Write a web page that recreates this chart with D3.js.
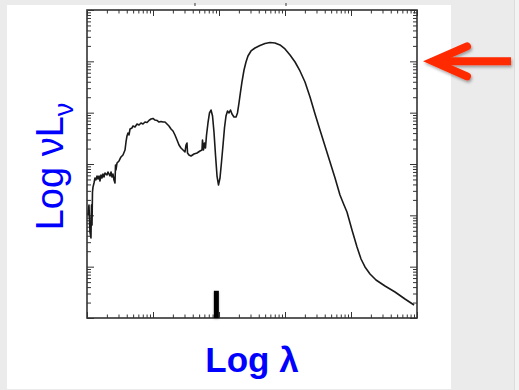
<!DOCTYPE html>
<html>
<head>
<meta charset="utf-8">
<script src="https://cdn.jsdelivr.net/npm/d3@7/dist/d3.min.js"></script>
<style>
  html, body { margin: 0; padding: 0; background: #ebebeb; }
  svg { display: block; }
</style>
</head>
<body>
<script>
// ---- Data (log units) ----
const logLambda = [0.015,0.03,0.045,0.06,0.068,0.076,0.083,0.091,0.106,0.121,0.136,0.152,0.167,0.182,0.197,0.212,0.227,0.242,0.258,0.273,0.303,0.318,0.348,0.364,0.379,0.394,0.409,0.424,0.432,0.439,0.455,0.485,0.515,0.545,0.576,0.591,0.606,0.621,0.636,0.652,0.682,0.697,0.727,0.758,0.788,0.818,0.848,0.879,0.909,0.939,0.97,1.0,1.03,1.061,1.091,1.121,1.152,1.182,1.212,1.242,1.273,1.303,1.333,1.364,1.394,1.424,1.455,1.485,1.5,1.515,1.523,1.545,1.576,1.621,1.667,1.712,1.742,1.75,1.765,1.78,1.795,1.811,1.833,1.856,1.879,1.902,1.924,1.947,1.97,1.992,2.015,2.038,2.061,2.083,2.106,2.129,2.152,2.174,2.197,2.227,2.258,2.28,2.303,2.326,2.348,2.379,2.409,2.439,2.485,2.545,2.621,2.697,2.773,2.848,2.924,3.0,3.076,3.152,3.227,3.303,3.379,3.455,3.53,3.606,3.682,3.758,3.833,3.894,3.939,4.015,4.091,4.152,4.212,4.288,4.379,4.515,4.667,4.818,4.955];
const logNuLnu = [2.007,2.20,1.675,1.56,2.20,1.81,2.455,2.55,2.63,2.727,2.69,2.766,2.708,2.766,2.669,2.786,2.727,2.805,2.747,2.825,2.786,2.844,2.766,2.844,2.747,2.805,2.688,2.63,2.98,2.883,3.02,3.059,3.137,3.176,3.273,3.429,3.546,3.604,3.565,3.682,3.702,3.741,3.721,3.779,3.76,3.799,3.779,3.818,3.809,3.848,3.877,3.887,3.857,3.848,3.818,3.828,3.818,3.818,3.779,3.741,3.682,3.643,3.565,3.468,3.37,3.312,3.273,3.234,3.37,3.409,3.214,3.176,3.156,3.195,3.214,3.253,3.273,3.468,3.273,3.409,3.312,3.565,3.799,3.994,4.052,3.935,3.624,3.176,2.766,2.591,2.727,3.039,3.37,3.702,3.935,4.033,3.994,4.052,3.974,3.916,3.916,3.994,4.189,4.403,4.598,4.831,4.987,5.104,5.202,5.26,5.309,5.348,5.367,5.358,5.319,5.241,5.124,4.987,4.812,4.598,4.305,3.974,3.663,3.351,3.039,2.727,2.396,2.201,2.065,1.714,1.383,1.149,0.994,0.857,0.74,0.623,0.507,0.37,0.253];
const xDecades = [0, 5];          // log lambda axis range
const yDecades = [0, 6];          // log nuLnu axis range
const markerLogLambda = 1.96;     // thick marker on the x axis
const markerHeight = 0.53;        // marker height (decades)
const arrowLogNuLnu = 5;          // red arrow points at this level
const xLabel = "Log λ";
const yLabelMain = "Log νL";
const yLabelSub = "ν";

// ---- Layout ----
const W = 519, H = 390;
const plot = { left: 87, right: 417, top: 10, bottom: 318 };

const svg = d3.select("body").append("svg").attr("width", W).attr("height", H);

const defs = svg.append("defs");
const sh = defs.append("filter").attr("id", "shadow").attr("x", "-20%").attr("y", "-40%").attr("width", "150%").attr("height", "200%");
sh.append("feDropShadow").attr("dx", 1).attr("dy", 2).attr("stdDeviation", 1.5).attr("flood-color", "#000").attr("flood-opacity", 0.35);
const sh2 = defs.append("filter").attr("id", "shadow2").attr("x", "-100%").attr("y", "-20%").attr("width", "300%").attr("height", "150%");
sh2.append("feDropShadow").attr("dx", 0).attr("dy", 1).attr("stdDeviation", 1.2).attr("flood-color", "#000").attr("flood-opacity", 0.3);

// background panels
svg.append("rect").attr("x", 0).attr("y", 0).attr("width", W).attr("height", H).attr("fill", "#ebebeb");
svg.append("rect").attr("x", 7).attr("y", 5).attr("width", 444).attr("height", 384).attr("fill", "#ffffff");
svg.append("rect").attr("x", 514).attr("y", 0).attr("width", 1).attr("height", H).attr("fill", "#dcdcdc");
svg.append("rect").attr("x", 515).attr("y", 0).attr("width", 4).attr("height", H).attr("fill", "#f3f3f3");

// scales
const x = d3.scaleLog().domain([10 ** xDecades[0], 10 ** xDecades[1]]).range([plot.left, plot.right]);
const y = d3.scaleLog().domain([10 ** yDecades[0], 10 ** yDecades[1]]).range([plot.bottom, plot.top]);

function ticksFor(dec, major) {
  const out = [];
  for (let k = dec[0]; k < dec[1]; k++) {
    if (major) out.push(10 ** k);
    else for (let m = 2; m <= 9; m++) out.push(m * 10 ** k);
  }
  if (major) out.push(10 ** dec[1]);
  return out;
}
const xMaj = ticksFor(xDecades, true), xMin = ticksFor(xDecades, false);
const yMaj = ticksFor(yDecades, true), yMin = ticksFor(yDecades, false);

function drawAxis(axisFn, scale, vals, size, transform) {
  const g = svg.append("g").attr("transform", transform)
    .call(axisFn(scale).tickValues(vals).tickSize(size).tickSizeOuter(0).tickFormat(""));
  g.select(".domain").remove();
  g.selectAll(".tick line").attr("stroke", "#333").attr("stroke-width", 1);
  return g;
}
// bottom axis (ticks inward = up)
drawAxis(d3.axisTop, x, xMaj, 6, `translate(0,${plot.bottom})`);
drawAxis(d3.axisTop, x, xMin, 3.5, `translate(0,${plot.bottom})`);
// top axis (ticks inward = down)
drawAxis(d3.axisBottom, x, xMaj, 6, `translate(0,${plot.top})`);
drawAxis(d3.axisBottom, x, xMin, 3.5, `translate(0,${plot.top})`);
// left axis (ticks inward = right)
drawAxis(d3.axisRight, y, yMaj, 7, `translate(${plot.left},0)`);
drawAxis(d3.axisRight, y, yMin, 4, `translate(${plot.left},0)`);
// right axis (ticks inward = left)
drawAxis(d3.axisLeft, y, yMaj, 7, `translate(${plot.right},0)`);
drawAxis(d3.axisLeft, y, yMin, 4, `translate(${plot.right},0)`);

// frame
svg.append("rect").attr("x", plot.left).attr("y", plot.top)
  .attr("width", plot.right - plot.left).attr("height", plot.bottom - plot.top)
  .attr("fill", "none").attr("stroke", "#333").attr("stroke-width", 1.6);

// tiny marks above the top axis
[1.636, 3.015].forEach(v => {
  svg.append("rect").attr("x", x(10 ** v) - 0.6).attr("y", 3).attr("width", 1.2).attr("height", 3).attr("fill", "#555");
});

// SED curve
const data = logLambda.map((lx, i) => [10 ** lx, 10 ** logNuLnu[i]]);
const line = d3.line().x(d => x(d[0])).y(d => y(d[1]));
svg.append("path").datum(data).attr("d", line)
  .attr("fill", "none").attr("stroke", "#1a1a1a").attr("stroke-width", 1.6)
  .attr("stroke-linejoin", "round");

// thick marker on x axis
const mx = x(10 ** markerLogLambda);
svg.append("rect").attr("x", mx - 2.5).attr("y", y(10 ** (yDecades[0] + markerHeight)))
  .attr("width", 5).attr("height", plot.bottom - y(10 ** (yDecades[0] + markerHeight)))
  .attr("fill", "#000").attr("filter", "url(#shadow2)");

// red arrow
const ay = y(10 ** arrowLogNuLnu);
const tipX = plot.right + 16;
const ag = svg.append("g").attr("filter", "url(#shadow)")
  .attr("stroke", "#ff2a00").attr("stroke-width", 8).attr("stroke-linecap", "round").attr("fill", "none");
ag.append("line").attr("x1", tipX + 4).attr("y1", ay).attr("x2", 511).attr("y2", ay).attr("stroke-linecap", "butt");
ag.append("path").attr("d", `M${tipX + 34},${ay - 15} L${tipX},${ay} L${tipX + 34},${ay + 15}`).attr("stroke-linejoin", "miter");

// axis labels
svg.append("text").attr("x", 252).attr("y", 372).attr("text-anchor", "middle")
  .attr("font-family", "Liberation Sans, Arial, sans-serif").attr("font-weight", "bold")
  .attr("font-size", 35).attr("fill", "#0000ff").text(xLabel);

const yl = svg.append("text").attr("transform", "translate(63,166.5) rotate(-90)")
  .attr("text-anchor", "middle")
  .attr("font-family", "Liberation Sans, Arial, sans-serif")
  .attr("font-size", 38).attr("fill", "#0000ff");
yl.append("tspan").text(yLabelMain);
yl.append("tspan").attr("font-size", 27).attr("dy", 10).text(yLabelSub);
</script>
</body>
</html>
